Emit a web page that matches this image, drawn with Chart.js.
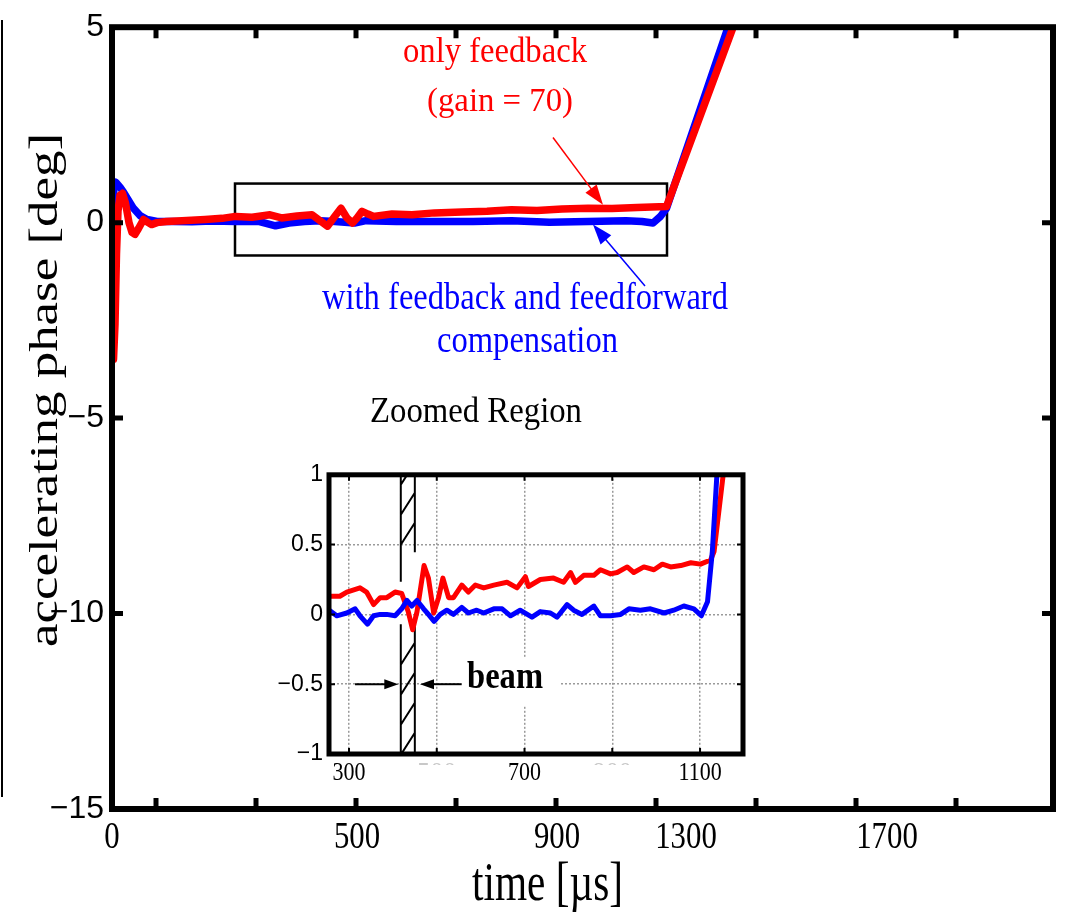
<!DOCTYPE html>
<html><head><meta charset="utf-8">
<script src="https://cdn.jsdelivr.net/npm/chart.js@4"></script>
<style>
html,body{margin:0;padding:0;background:#fff;}
#wrap{position:relative;width:1066px;height:914px;background:#fff;}
#main{position:absolute;left:0;top:0;}
#inset{position:absolute;left:250px;top:455px;}
</style></head><body>
<div id="wrap"><canvas id="main" width="1066" height="914"></canvas><canvas id="inset" width="510" height="335"></canvas></div>
<script>
// ---------- data (time in microseconds, phase in degrees) ----------
const redTime  = [3,6,9,12,16,21,27,34,40,46,53,63,70,79,90,109,140,186,220,247,280,316,339,370,400,431,445,458,470,481,490,500,512,523,560,600,645,700,750,799,850,900,952,1000,1050,1109,1280];
const redPhase = [-3.5,-2.6,-0.8,0.3,0.7,0.75,0.5,0.0,-0.25,-0.3,-0.15,0.08,0.02,-0.05,0.0,0.03,0.05,0.08,0.11,0.16,0.14,0.2,0.12,0.17,0.2,-0.09,0.15,0.37,0.12,-0.01,0.12,0.29,0.22,0.16,0.22,0.2,0.25,0.27,0.29,0.33,0.31,0.35,0.37,0.36,0.39,0.41,6.3];
const blueTime  = [2,4,7,10,16,23,30,42,56,70,90,122,160,200,247,293,327,354,385,416,446,485,508,569,645,722,799,875,952,1028,1060,1082,1097,1109,1280];
const bluePhase = [0.5,0.9,1.04,1.0,0.91,0.78,0.63,0.38,0.18,0.08,0.03,0.03,0.02,0.04,0.03,0.03,-0.08,-0.01,0.03,0.05,0.03,-0.01,0.05,0.03,0.03,0.03,0.05,0.01,0.03,0.05,0.03,-0.01,0.16,0.37,6.8];

const insetRedTime  = [255,279,295,325,340,356,371,386,405,420,435,445,455,471,481,493,504,514,527,538,557,572,588,607,630,660,683,702,709,736,766,789,805,816,835,858,873,896,911,934,949,972,995,1014,1033,1056,1079,1101,1124,1132,1155,1175];
const insetRedPhase = [0.13,0.13,0.16,0.19,0.16,0.07,0.12,0.12,0.16,0.15,0.02,-0.11,0.02,0.35,0.26,0.01,0.12,0.26,0.12,0.12,0.21,0.16,0.21,0.19,0.21,0.23,0.19,0.27,0.2,0.25,0.26,0.23,0.3,0.23,0.28,0.28,0.32,0.29,0.3,0.34,0.3,0.34,0.32,0.36,0.34,0.35,0.37,0.36,0.39,0.45,1.06,1.7];
const insetBlueTime  = [255,272,295,314,325,342,356,371,386,405,420,432,443,455,470,481,494,508,523,538,557,572,591,607,630,649,668,690,717,736,759,774,797,812,831,858,873,896,919,938,964,987,1018,1040,1063,1086,1103,1117,1128,1139,1160];
const insetBluePhase = [0.03,-0.01,0.01,0.04,-0.01,-0.07,-0.01,0.0,0.0,-0.01,0.04,0.1,0.06,0.1,0.04,0.0,-0.05,0.0,0.03,0.0,0.05,0.01,0.03,0.01,0.04,0.04,-0.01,0.03,-0.02,0.02,0.01,-0.02,0.07,0.03,0.0,0.06,-0.01,-0.01,0.0,0.04,0.03,0.04,0.01,0.03,0.06,0.04,-0.01,0.09,0.45,1.03,1.9];

// axis ranges and ticks
const mainTimeRange = [0, 1882];
const mainPhaseRange = [-15, 5];
const xTickLabels = ['0','500','900','1300','1700'];
const xTickLabelAt = [0, 490, 890, 1148, 1550];
const xTickMarks = [88,288,488,688,888,1088,1288,1488,1688];
const yTickMarks = [0,-5,-10];

const insetTimeRange = [254.4, 1197.9];
const insetPhaseRange = [-1, 1];
const insetXTicks = [300,500,700,900,1100];
const insetXTickLabels = ['300','500','700','900','1100'];
const insetXLabelShown = [true,false,true,false,true];

// annotations (data units)
const zoomBoxTime = [246, 1110];
const zoomBoxPhase = [1.0, -0.84];
const redArrowTime = [882, 982];
const redArrowPhase = [2.18, 0.46];
const blueArrowTime = [1066, 962];
const blueArrowPhase = [-1.62, -0.05];
const beamTime = [418, 450];
const beamArrowLeftTime = [313.7, 412.4];
const beamArrowRightTime = [556.8, 461.8];

const SERIF = "'Liberation Serif','Times New Roman',serif";
const SANS = "'Liberation Sans',Arial,sans-serif";

function drawText(ctx, text, x, y, font, color, opts) {
  opts = opts || {};
  ctx.save();
  ctx.font = font;
  ctx.fillStyle = color;
  ctx.textBaseline = 'alphabetic';
  const w = ctx.measureText(text).width;
  let sx = opts.sx || 1;
  if (opts.width) sx = opts.width / w;
  ctx.translate(x, y);
  if (opts.rotate) ctx.rotate(opts.rotate);
  ctx.scale(sx, 1);
  ctx.textAlign = opts.align || 'center';
  ctx.fillText(text, 0, 0);
  ctx.restore();
}
function arrow(ctx, x1, y1, x2, y2, color, lw, len, half) {
  const ang = Math.atan2(y2 - y1, x2 - x1);
  ctx.save();
  ctx.strokeStyle = color; ctx.fillStyle = color; ctx.lineWidth = lw;
  ctx.beginPath(); ctx.moveTo(x1, y1);
  ctx.lineTo(x2 - Math.cos(ang) * len * 0.8, y2 - Math.sin(ang) * len * 0.8); ctx.stroke();
  ctx.translate(x2, y2); ctx.rotate(ang);
  ctx.beginPath(); ctx.moveTo(0, 0); ctx.lineTo(-len, half); ctx.lineTo(-len, -half); ctx.closePath(); ctx.fill();
  ctx.restore();
}
const minus = v => String(v).replace('-', '\u2212');

const mainDecor = {
  id: 'mainDecor',
  beforeDatasetsDraw(chart) {
    const {ctx, scales: {x, y}} = chart;
    ctx.save();
    ctx.strokeStyle = '#000'; ctx.lineWidth = 2.5;
    const x0 = x.getPixelForValue(zoomBoxTime[0]), x1 = x.getPixelForValue(zoomBoxTime[1]);
    const y0 = y.getPixelForValue(zoomBoxPhase[0]), y1 = y.getPixelForValue(zoomBoxPhase[1]);
    ctx.strokeRect(x0, y0, x1 - x0, y1 - y0);
    ctx.restore();
  },
  afterDatasetsDraw(chart) {
    const {ctx, chartArea: a, scales: {x, y}} = chart;
    ctx.save();
    ctx.strokeStyle = '#000'; ctx.lineWidth = 6; ctx.lineJoin = 'miter';
    ctx.strokeRect(a.left, a.top, a.right - a.left, a.bottom - a.top);
    ctx.lineWidth = 5; ctx.lineCap = 'butt';
    ctx.beginPath();
    xTickMarks.forEach(t => {
      const px = x.getPixelForValue(t);
      ctx.moveTo(px, a.bottom); ctx.lineTo(px, a.bottom - 11);
      ctx.moveTo(px, a.top); ctx.lineTo(px, a.top + 11);
    });
    yTickMarks.forEach(v => {
      const py = y.getPixelForValue(v);
      ctx.moveTo(a.left, py); ctx.lineTo(a.left + 11, py);
      ctx.moveTo(a.right, py); ctx.lineTo(a.right - 11, py);
    });
    ctx.stroke();
    ctx.lineWidth = 2;
    ctx.beginPath(); ctx.moveTo(2, 20); ctx.lineTo(2, 797); ctx.stroke();
    ctx.restore();

    arrow(ctx, x.getPixelForValue(redArrowTime[0]), y.getPixelForValue(redArrowPhase[0]),
      x.getPixelForValue(redArrowTime[1]), y.getPixelForValue(redArrowPhase[1]), '#ff0000', 1.5, 20, 7);
    arrow(ctx, x.getPixelForValue(blueArrowTime[0]), y.getPixelForValue(blueArrowPhase[0]),
      x.getPixelForValue(blueArrowTime[1]), y.getPixelForValue(blueArrowPhase[1]), '#0000ff', 1.5, 20, 7);

    drawText(ctx, 'only feedback', 495, 62, '35px ' + SERIF, '#ff0000', {width: 184});
    drawText(ctx, '(gain = 70)', 500, 111, '34px ' + SERIF, '#ff0000', {width: 146});
    drawText(ctx, 'with feedback and feedforward', 525, 309, '37px ' + SERIF, '#0000ff', {width: 406});
    drawText(ctx, 'compensation', 527.5, 352, '37px ' + SERIF, '#0000ff', {width: 181});
    drawText(ctx, 'Zoomed Region', 476, 422, '36px ' + SERIF, '#000', {width: 212});

    xTickLabels.forEach((lab, i) => {
      drawText(ctx, lab, x.getPixelForValue(xTickLabelAt[i]), 848, '38px ' + SERIF, '#000', {sx: 0.81});
    });
    drawText(ctx, 'time [\u00b5s]', 547.5, 900, '54px ' + SERIF, '#000', {width: 151});
    drawText(ctx, 'accelerating phase [deg]', 57, 390, '40px ' + SERIF, '#000', {width: 514, rotate: -Math.PI / 2});
  }
};

new Chart(document.getElementById('main'), {
  type: 'line',
  data: {
    datasets: [
      {label: 'only feedback (gain = 70)', data: redTime.map((t, i) => ({x: t, y: redPhase[i]})),
       borderColor: '#ff0000', borderWidth: 7.5, pointRadius: 0, tension: 0, order: 0, borderJoinStyle: 'round', borderCapStyle: 'round'},
      {label: 'with feedback and feedforward compensation', data: blueTime.map((t, i) => ({x: t, y: bluePhase[i]})),
       borderColor: '#0000ff', borderWidth: 7.5, pointRadius: 0, tension: 0, order: 1, borderJoinStyle: 'round', borderCapStyle: 'round'}
    ]
  },
  options: {
    responsive: false, animation: false, devicePixelRatio: 1,
    layout: {padding: {left: 0, right: 13, top: 21, bottom: 0}},
    plugins: {legend: {display: false}, tooltip: {enabled: false}},
    scales: {
      x: {type: 'linear', min: mainTimeRange[0], max: mainTimeRange[1],
          grid: {display: false, drawTicks: false}, border: {display: false},
          ticks: {display: false}, afterFit(s) { s.height = 105; }},
      y: {type: 'linear', min: mainPhaseRange[0], max: mainPhaseRange[1],
          ticks: {stepSize: 5, color: '#000', padding: 8, font: {family: SANS, size: 32}, callback: v => minus(v)},
          grid: {display: false, drawTicks: false}, border: {display: false},
          afterFit(s) { s.width = 112; }}
    }
  },
  plugins: [mainDecor]
});

const insetDecor = {
  id: 'insetDecor',
  beforeDatasetsDraw(chart) {
    const {ctx, chartArea: a, scales: {x, y}} = chart;
    ctx.save();
    const bx = x.getPixelForValue(569), by = y.getPixelForValue(-0.53);
    ctx.fillStyle = '#fff';
    ctx.fillRect(bx - 6, by - 31, 98, 48);
    ctx.beginPath(); ctx.rect(a.left, a.top, a.right - a.left, a.bottom - a.top); ctx.clip();
    const xl = x.getPixelForValue(beamTime[0]), xr = x.getPixelForValue(beamTime[1]);
    ctx.strokeStyle = '#000'; ctx.lineWidth = 2;
    ctx.beginPath();
    ctx.moveTo(xl, a.top); ctx.lineTo(xl, y.getPixelForValue(0.233));
    ctx.moveTo(xl, y.getPixelForValue(-0.07)); ctx.lineTo(xl, a.bottom);
    ctx.moveTo(xr, a.top); ctx.lineTo(xr, y.getPixelForValue(0.445));
    ctx.moveTo(xr, y.getPixelForValue(-0.014)); ctx.lineTo(xr, a.bottom);
    const gapTop = y.getPixelForValue(0.3), gapBot = y.getPixelForValue(-0.08);
    for (let yy = a.top - 12; yy < a.bottom; yy += 30) {
      if (yy + 22 > gapTop && yy < gapBot) continue;
      ctx.moveTo(xl, yy + 22); ctx.lineTo(xr, yy);
    }
    ctx.stroke();
    ctx.restore();
    const ya = y.getPixelForValue(-0.5);
    arrow(ctx, x.getPixelForValue(beamArrowLeftTime[0]), ya, x.getPixelForValue(beamArrowLeftTime[1]), ya, '#000', 2, 14, 5);
    arrow(ctx, x.getPixelForValue(beamArrowRightTime[0]), ya, x.getPixelForValue(beamArrowRightTime[1]), ya, '#000', 2, 14, 5);
    drawText(ctx, 'beam', bx, by, 'bold 38px ' + SERIF, '#000', {width: 76, align: 'left'});
  },
  afterDatasetsDraw(chart) {
    const {ctx, chartArea: a, scales: {x, y}} = chart;
    ctx.save();
    ctx.strokeStyle = '#000'; ctx.lineWidth = 5;
    ctx.strokeRect(a.left, a.top, a.right - a.left, a.bottom - a.top);
    ctx.lineWidth = 2;
    ctx.beginPath();
    insetXTicks.forEach(t => {
      const px = x.getPixelForValue(t);
      ctx.moveTo(px, a.bottom); ctx.lineTo(px, a.bottom - 6);
      ctx.moveTo(px, a.top); ctx.lineTo(px, a.top + 6);
    });
    [0.5, 0, -0.5].forEach(v => {
      const py = y.getPixelForValue(v);
      ctx.moveTo(a.left, py); ctx.lineTo(a.left + 6, py);
      ctx.moveTo(a.right, py); ctx.lineTo(a.right - 6, py);
    });
    ctx.stroke();
    ctx.restore();
    insetXTickLabels.forEach((lab, i) => {
      const px = x.getPixelForValue(insetXTicks[i]);
      if (insetXLabelShown[i]) {
        drawText(ctx, lab, px, a.bottom + 26, '25px ' + SERIF, '#000', {sx: 0.88});
      } else {
        ctx.save();
        ctx.beginPath(); ctx.rect(px - 30, a.bottom + 3, 60, 8); ctx.clip();
        drawText(ctx, lab, px, a.bottom + 26, '25px ' + SERIF, '#c8c8c8', {sx: 1.05});
        ctx.restore();
      }
    });
  }
};

new Chart(document.getElementById('inset'), {
  type: 'line',
  data: {
    datasets: [
      {label: 'with feedback and feedforward compensation', data: insetBlueTime.map((t, i) => ({x: t, y: insetBluePhase[i]})),
       borderColor: '#0000ff', borderWidth: 5, pointRadius: 0, tension: 0, order: 0, borderJoinStyle: 'round', borderCapStyle: 'round'},
      {label: 'only feedback (gain = 70)', data: insetRedTime.map((t, i) => ({x: t, y: insetRedPhase[i]})),
       borderColor: '#ff0000', borderWidth: 5, pointRadius: 0, tension: 0, order: 1, borderJoinStyle: 'round', borderCapStyle: 'round'}
    ]
  },
  options: {
    responsive: false, animation: false, devicePixelRatio: 1,
    layout: {padding: {left: 0, right: 17, top: 16, bottom: 0}},
    plugins: {legend: {display: false}, tooltip: {enabled: false}},
    scales: {
      x: {type: 'linear', min: insetTimeRange[0], max: insetTimeRange[1],
          afterBuildTicks(s) { s.ticks = insetXTicks.map(v => ({value: v})); },
          grid: {display: true, color: '#9a9a9a', lineWidth: 1.5, drawTicks: false},
          border: {display: false, dash: [2, 2]},
          ticks: {display: false}, afterFit(s) { s.height = 36; }},
      y: {type: 'linear', min: insetPhaseRange[0], max: insetPhaseRange[1],
          ticks: {stepSize: 0.5, color: '#000', padding: 6, font: {family: SANS, size: 23}, callback: v => minus(v)},
          grid: {display: true, color: '#9a9a9a', lineWidth: 1.5, drawTicks: false},
          border: {display: false, dash: [2, 2]},
          afterFit(s) { s.width = 79; }}
    }
  },
  plugins: [insetDecor]
});
</script>
</body></html>
